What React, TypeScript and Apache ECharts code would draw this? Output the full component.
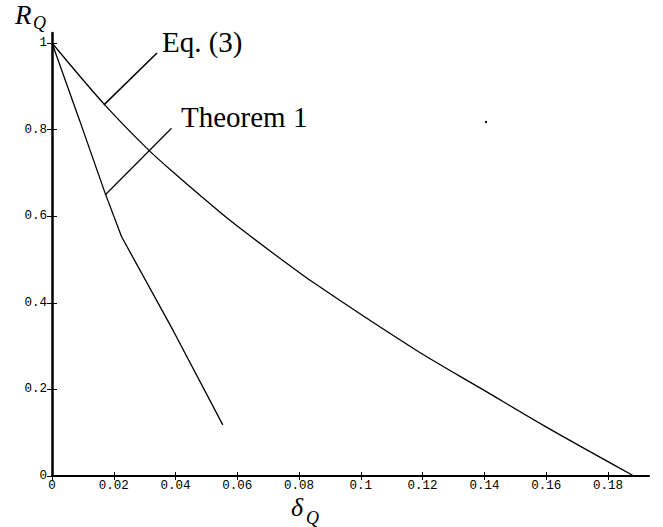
import React, { useEffect, useRef } from "react";
import * as echarts from "echarts";

const xTicks = [0, 0.02, 0.04, 0.06, 0.08, 0.1, 0.12, 0.14, 0.16, 0.18];
const yTicks = [0, 0.2, 0.4, 0.6, 0.8, 1];

const eq3X = [0, 0.0171, 0.0314, 0.0414, 0.0478, 0.0575, 0.0702, 0.085, 0.1178, 0.1394, 0.1598, 0.1884];
const eq3Y = [1, 0.857, 0.752, 0.688, 0.649, 0.591, 0.522, 0.445, 0.291, 0.2, 0.114, 0];

const thm1X = [0, 0.009, 0.0171, 0.0225, 0.0393, 0.0553];
const thm1Y = [1, 0.82, 0.655, 0.553, 0.335, 0.118];

const eqPointerX = [0.0168, 0.034];
const eqPointerY = [0.857, 0.977];
const thmPointerX = [0.0172, 0.0387];
const thmPointerY = [0.649, 0.803];

const labelEq = "Eq. (3)";
const labelThm = "Theorem 1";

const zip = (xs: number[], ys: number[]) => xs.map((x, i) => [x, ys[i]]);
const fmt = (v: number) => String(+(+v).toFixed(2));

export default function App() {
  const ref = useRef<HTMLDivElement>(null);
  useEffect(() => {
    document.body.style.margin = "0";
    const chart = echarts.init(ref.current!, null, { renderer: "svg" });
    const tickFont = { fontFamily: "Liberation Mono", fontSize: 12.5, lineHeight: 12, color: "#000" };
    const lineSeries = (data: number[][], w = 1.3) => ({
      type: "line",
      data,
      showSymbol: false,
      symbol: "none",
      lineStyle: { color: "#000", width: w },
      silent: true,
    });
    chart.setOption({
      animation: false,
      backgroundColor: "#fff",
      grid: { left: 52, right: 14, top: 33, bottom: 51 },
      xAxis: [
        {
          type: "value",
          min: 0,
          max: 0.1933,
          position: "bottom",
          axisLine: { onZero: false, lineStyle: { color: "#000", width: 2 } },
          axisTick: { show: true, length: 4, customValues: xTicks, lineStyle: { color: "#000", width: 1 } },
          axisLabel: { customValues: xTicks, margin: 4, formatter: fmt, ...tickFont },
          splitLine: { show: false },
        },
        {
          type: "value",
          min: 0,
          max: 0.1933,
          position: "bottom",
          axisLine: { show: false, onZero: false },
          axisTick: { show: true, inside: true, length: 4, customValues: xTicks, lineStyle: { color: "#000", width: 1 } },
          axisLabel: { show: false },
          splitLine: { show: false },
        },
      ],
      yAxis: [
        {
          type: "value",
          min: 0,
          max: 1.023,
          position: "left",
          axisLine: { onZero: false, lineStyle: { color: "#000", width: 2.5 } },
          axisTick: { show: true, length: 5, customValues: yTicks, lineStyle: { color: "#000", width: 1 } },
          axisLabel: { customValues: yTicks, margin: 5, formatter: fmt, ...tickFont },
          splitLine: { show: false },
        },
        {
          type: "value",
          min: 0,
          max: 1.023,
          position: "left",
          axisLine: { show: false, onZero: false },
          axisTick: { show: true, inside: true, length: 5, customValues: yTicks, lineStyle: { color: "#000", width: 1 } },
          axisLabel: { show: false },
          splitLine: { show: false },
        },
      ],
      series: [
        { ...lineSeries(zip(eq3X, eq3Y)), smooth: 0.3 },
        lineSeries(zip(thm1X, thm1Y)),
        lineSeries(zip(eqPointerX, eqPointerY), 1.5),
        lineSeries(zip(thmPointerX, thmPointerY), 1.2),
      ],
      graphic: [
        {
          type: "text",
          left: 15,
          top: 1,
          style: { text: "R", font: "italic 27px 'Liberation Serif'", fill: "#000" },
        },
        {
          type: "text",
          left: 33,
          top: 14,
          style: { text: "Q", font: "italic 18px 'Liberation Serif'", fill: "#000" },
        },
        {
          type: "text",
          left: 291,
          top: 494,
          style: { text: "δ", font: "italic 26px 'Liberation Serif'", fill: "#000" },
        },
        {
          type: "text",
          left: 306,
          top: 509,
          style: { text: "Q", font: "italic 18px 'Liberation Serif'", fill: "#000" },
        },
        {
          type: "text",
          left: 162,
          top: 27,
          style: { text: labelEq, font: "29px 'Liberation Serif'", fill: "#000" },
        },
        {
          type: "text",
          left: 181,
          top: 102,
          style: { text: labelThm, font: "29px 'Liberation Serif'", fill: "#000" },
        },
        {
          type: "circle",
          shape: { cx: 486, cy: 122, r: 1.2 },
          style: { fill: "#000" },
          silent: true,
        },
      ],
    });
    return () => chart.dispose();
  }, []);
  return <div ref={ref} style={{ width: 663, height: 527 }} />;
}
